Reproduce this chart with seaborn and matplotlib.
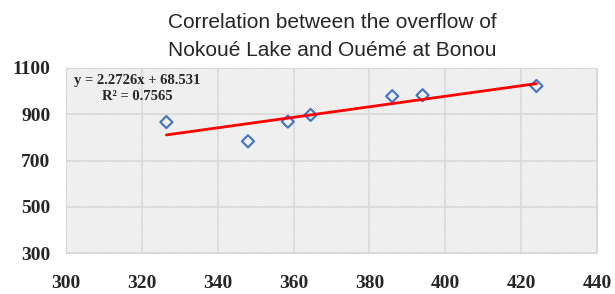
import numpy as np
import matplotlib.pyplot as plt
import seaborn as sns
import pandas as pd

# overflow values
nokoue = [326.5, 348, 358.5, 364.5, 386, 394, 424]
ouere_bonou = [866, 783, 868, 897, 978, 982, 1022]
slope = 2.2726
intercept = 68.531
r2 = 0.7565

df = pd.DataFrame({"x": nokoue, "y": ouere_bonou})

sns.set_style("white")
plt.rcParams['hatch.color'] = "#dadada"
plt.rcParams['hatch.linewidth'] = 0.5
fig = plt.figure(figsize=(6.15, 2.94), dpi=100)
ax = fig.add_axes([0.107, 0.139, 0.864, 0.630])

# hatched plot area like the excel pattern fill
ax.add_patch(plt.Rectangle((0, 0), 1, 1, transform=ax.transAxes, facecolor="white",
                           edgecolor="#dadada", hatch="\\" * 14, lw=0, zorder=0))

ax.set_xlim(300, 440)
ax.set_ylim(300, 1100)
ax.set_xticks(np.arange(300, 441, 20))
ax.set_yticks(np.arange(300, 1101, 200))
ax.grid(True, color="#d9d9d9", lw=1.2, zorder=1)
ax.set_axisbelow(True)
for s in ax.spines.values():
    s.set_color("#d9d9d9")

sns.scatterplot(data=df, x="x", y="y", marker="D", s=38, facecolor="none",
                edgecolor="#4472c4", linewidth=1.5, ax=ax, zorder=3)

fit = pd.DataFrame({"x": [min(nokoue), max(nokoue)]})
fit["y"] = slope * fit["x"] + intercept
sns.lineplot(data=fit, x="x", y="y", color="#ff0000", lw=2, ax=ax, zorder=4)

ax.set_xlabel("")
ax.set_ylabel("")
ax.tick_params(axis="x", length=0, pad=16)
ax.tick_params(axis="y", length=0, pad=11)
for lab in ax.get_xticklabels() + ax.get_yticklabels():
    lab.set_fontfamily("Liberation Serif")
    lab.set_fontweight("bold")
    lab.set_fontsize(14)

ax.text(0.134, 0.965, f"y = {slope}x + {intercept}\nR² = {r2}", transform=ax.transAxes,
        va="top", ha="center", multialignment="center", fontfamily="Liberation Serif",
        fontweight="bold", fontsize=10.5, linespacing=1.25)

fig.text(0.541, 0.955, "Correlation between the overflow of\nNokoué Lake and Ouémé at Bonou",
         ha="center", va="top", fontfamily="Liberation Sans", fontsize=15, linespacing=1.6)

fig.savefig("out.png", dpi=100)
